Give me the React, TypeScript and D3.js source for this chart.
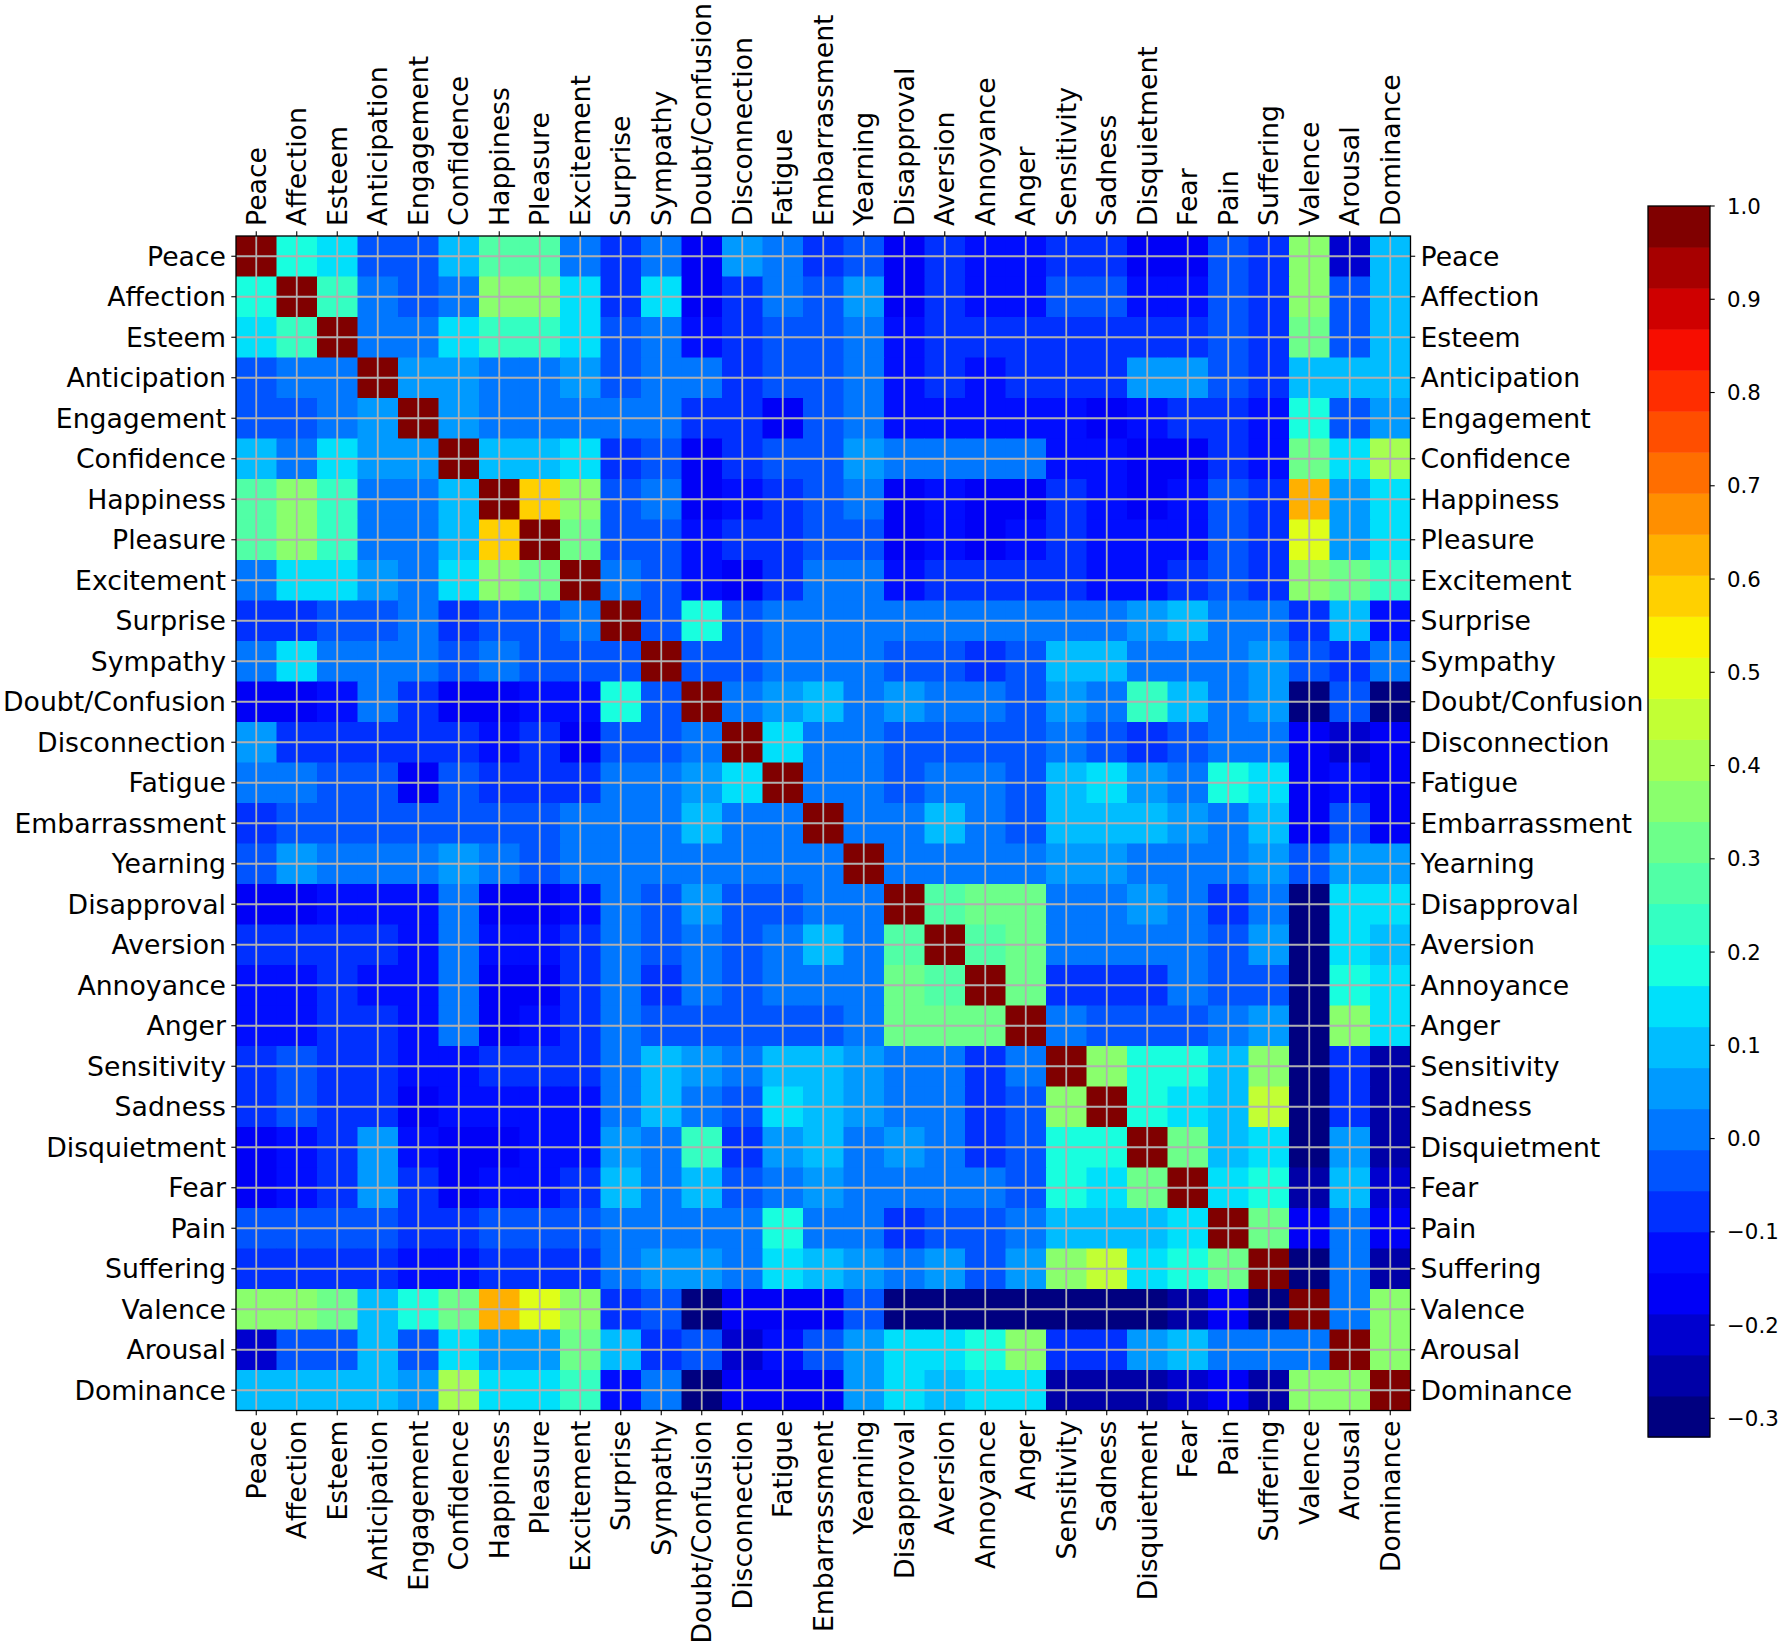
import React from "react";
import * as d3 from "d3";

const labels = [
  "Peace", "Affection", "Esteem", "Anticipation", "Engagement", "Confidence",
  "Happiness", "Pleasure", "Excitement", "Surprise", "Sympathy", "Doubt/Confusion",
  "Disconnection", "Fatigue", "Embarrassment", "Yearning", "Disapproval", "Aversion",
  "Annoyance", "Anger", "Sensitivity", "Sadness", "Disquietment", "Fear", "Pain",
  "Suffering", "Valence", "Arousal", "Dominance",
];

const rowPeace = [1, 0.20, 0.14, -0.03, -0.03, 0.09, 0.27, 0.27, 0.01, -0.08, 0.02, -0.16, 0.04, -0.01, -0.06, -0.03, -0.16, -0.08, -0.13, -0.13, -0.09, -0.08, -0.16, -0.15, -0.04, -0.08, 0.36, -0.22, 0.11];
const rowAffection = [0.20, 1, 0.24, 0.00, -0.05, -0.01, 0.36, 0.36, 0.14, -0.06, 0.16, -0.16, -0.08, -0.01, -0.04, 0.06, -0.16, -0.08, -0.12, -0.12, -0.04, -0.05, -0.13, -0.12, -0.05, -0.06, 0.36, -0.04, 0.11];
const rowEsteem = [0.14, 0.24, 1, 0.01, -0.01, 0.14, 0.24, 0.23, 0.14, -0.04, 0.02, -0.14, -0.07, -0.04, -0.03, 0.02, -0.14, -0.08, -0.09, -0.09, -0.08, -0.08, -0.09, -0.09, -0.05, -0.07, 0.33, -0.02, 0.11];
const rowAnticipation = [-0.03, 0.00, 0.01, 1, 0.05, 0.04, 0.00, 0.00, 0.04, -0.02, -0.01, 0.02, -0.07, -0.04, -0.03, 0.02, -0.13, -0.08, -0.11, -0.09, -0.09, -0.09, 0.04, 0.04, -0.03, -0.07, 0.10, 0.10, 0.08];
const rowEngagement = [-0.03, -0.05, -0.01, 0.05, 1, 0.04, 0.00, 0.00, 0.01, -0.01, 0.02, -0.09, -0.07, -0.15, -0.05, 0.00, -0.14, -0.12, -0.13, -0.12, -0.11, -0.15, -0.13, -0.09, -0.08, -0.12, 0.18, -0.05, 0.06];
const rowConfidence = [0.09, -0.01, 0.14, 0.04, 0.04, 1, 0.10, 0.10, 0.14, -0.09, -0.03, -0.16, -0.07, -0.04, -0.04, 0.06, 0.00, 0.01, 0.00, 0.00, -0.13, -0.14, -0.16, -0.15, -0.08, -0.12, 0.31, 0.14, 0.42];
const rowHappiness = [0.27, 0.36, 0.24, 0.00, 0.00, 0.10, 1, 0.58, 0.38, -0.05, 0.00, -0.16, -0.11, -0.06, -0.05, 0.00, -0.17, -0.14, -0.16, -0.15, -0.09, -0.12, -0.16, -0.12, -0.04, -0.09, 0.63, 0.06, 0.14];
const rowPleasure = [0.27, 0.36, 0.23, 0.00, 0.00, 0.10, 0.58, 1, 0.32, -0.03, -0.03, -0.14, -0.08, -0.06, -0.05, -0.02, -0.17, -0.12, -0.18, -0.13, -0.09, -0.11, -0.14, -0.12, -0.05, -0.09, 0.50, 0.06, 0.14];
const rowExcitement = [0.01, 0.14, 0.14, 0.04, 0.01, 0.14, 0.38, 0.32, 1, -0.01, -0.02, -0.13, -0.15, -0.06, 0.00, 0.02, -0.12, -0.08, -0.09, -0.09, -0.08, -0.11, -0.11, -0.09, -0.04, -0.07, 0.36, 0.30, 0.21];
const rowSurprise = [-0.08, -0.06, -0.04, -0.02, -0.01, -0.09, -0.05, -0.03, -0.01, 1, -0.02, 0.17, -0.05, -0.01, 0.02, 0.02, 0.00, 0.00, 0.00, 0.00, 0.00, 0.00, 0.04, 0.09, 0.00, 0.01, -0.08, 0.10, -0.12];
const rowSympathy = [0.02, 0.16, 0.02, -0.01, 0.02, -0.03, 0.00, -0.03, -0.02, -0.02, 1, -0.03, -0.03, 0.02, 0.00, 0.02, -0.04, -0.03, -0.09, -0.05, 0.10, 0.10, -0.01, 0.01, 0.00, 0.05, -0.02, -0.09, 0.02];
const rowDoubt = [-0.16, -0.16, -0.14, 0.02, -0.09, -0.16, -0.16, -0.14, -0.13, 0.17, -0.03, 1, 0.00, 0.05, 0.10, 0.02, 0.07, 0.02, 0.00, -0.02, 0.04, 0.01, 0.21, 0.09, 0.00, 0.04, -0.29, -0.04, -0.30];
const rowDisconnection = [0.04, -0.08, -0.07, -0.07, -0.07, -0.07, -0.11, -0.08, -0.15, -0.05, -0.03, 0.00, 1, 0.15, 0.01, 0.00, -0.05, -0.04, -0.03, -0.05, -0.01, -0.02, -0.06, -0.04, 0.00, 0.00, -0.17, -0.21, -0.16];
const rowFatigue = [-0.01, -0.01, -0.04, -0.04, -0.15, -0.04, -0.06, -0.06, -0.06, -0.01, 0.02, 0.05, 0.15, 1, 0.02, 0.00, -0.05, 0.00, 0.00, -0.04, 0.11, 0.16, 0.04, 0.01, 0.19, 0.16, -0.17, -0.12, -0.16];
const rowEmbarrassment = [-0.06, -0.04, -0.03, -0.03, -0.05, -0.04, -0.05, -0.05, 0.00, 0.02, 0.00, 0.10, 0.01, 0.02, 1, 0.02, 0.00, 0.09, 0.00, -0.02, 0.10, 0.10, 0.08, 0.05, 0.02, 0.10, -0.17, -0.04, -0.16];
const rowYearning = [-0.03, 0.06, 0.02, 0.02, 0.00, 0.06, 0.00, -0.02, 0.02, 0.02, 0.02, 0.02, 0.00, 0.00, 0.02, 1, 0.01, 0.02, 0.01, 0.01, 0.04, 0.04, 0.02, 0.01, 0.00, 0.04, -0.05, 0.05, 0.04];
const rowDisapproval = [-0.16, -0.16, -0.14, -0.13, -0.14, 0.00, -0.17, -0.17, -0.12, 0.00, -0.04, 0.07, -0.05, -0.05, 0.00, 0.01, 1, 0.28, 0.33, 0.33, 0.00, 0.00, 0.05, 0.02, -0.06, 0.02, -0.31, 0.16, 0.13];
const rowAversion = [-0.08, -0.08, -0.08, -0.08, -0.12, 0.01, -0.14, -0.12, -0.08, 0.00, -0.03, 0.02, -0.04, 0.00, 0.09, 0.02, 0.28, 1, 0.27, 0.33, 0.01, 0.02, 0.00, 0.01, -0.05, 0.04, -0.30, 0.15, 0.08];
const rowAnnoyance = [-0.13, -0.12, -0.09, -0.11, -0.13, 0.00, -0.16, -0.18, -0.09, 0.00, -0.09, 0.00, -0.03, 0.00, 0.00, 0.01, 0.33, 0.27, 1, 0.33, -0.06, -0.06, -0.06, 0.00, -0.03, -0.04, -0.28, 0.20, 0.13];
const rowAnger = [-0.13, -0.12, -0.09, -0.09, -0.12, 0.00, -0.15, -0.13, -0.09, 0.00, -0.05, -0.02, -0.05, -0.04, -0.02, 0.01, 0.33, 0.33, 0.33, 1, -0.01, -0.04, -0.02, -0.02, -0.01, 0.05, -0.30, 0.37, 0.15];
const rowSensitivity = [-0.09, -0.04, -0.08, -0.09, -0.11, -0.13, -0.09, -0.09, -0.08, 0.00, 0.10, 0.04, -0.01, 0.11, 0.10, 0.04, 0.00, 0.01, -0.06, -0.01, 1, 0.35, 0.20, 0.17, 0.11, 0.35, -0.30, -0.07, -0.25];
const rowSadness = [-0.08, -0.05, -0.08, -0.09, -0.15, -0.14, -0.12, -0.11, -0.11, 0.00, 0.10, 0.01, -0.02, 0.16, 0.10, 0.04, 0.00, 0.02, -0.06, -0.04, 0.35, 1, 0.20, 0.15, 0.10, 0.44, -0.30, -0.09, -0.27];
const rowDisquietment = [-0.16, -0.13, -0.09, 0.04, -0.13, -0.16, -0.16, -0.14, -0.11, 0.04, -0.01, 0.21, -0.06, 0.04, 0.08, 0.02, 0.05, 0.00, -0.06, -0.02, 0.20, 0.20, 1, 0.33, 0.10, 0.16, -0.29, 0.07, -0.25];
const rowFear = [-0.15, -0.12, -0.09, 0.04, -0.09, -0.15, -0.12, -0.12, -0.09, 0.09, 0.01, 0.09, -0.04, 0.01, 0.05, 0.01, 0.02, 0.01, 0.00, -0.02, 0.17, 0.15, 0.33, 1, 0.14, 0.19, -0.24, 0.08, -0.23];
const rowPain = [-0.04, -0.05, -0.05, -0.03, -0.08, -0.08, -0.04, -0.05, -0.04, 0.00, 0.00, 0.00, 0.00, 0.19, 0.02, 0.00, -0.06, -0.05, -0.03, -0.01, 0.11, 0.10, 0.10, 0.14, 1, 0.33, -0.16, 0.00, -0.15];
const rowSuffering = [-0.08, -0.06, -0.07, -0.07, -0.12, -0.12, -0.09, -0.09, -0.07, 0.01, 0.05, 0.04, 0.00, 0.16, 0.10, 0.04, 0.02, 0.04, -0.04, 0.05, 0.35, 0.44, 0.16, 0.19, 0.33, 1, -0.28, 0.00, -0.27];
const rowValence = [0.36, 0.36, 0.33, 0.10, 0.18, 0.31, 0.63, 0.50, 0.36, -0.08, -0.02, -0.29, -0.17, -0.17, -0.17, -0.05, -0.31, -0.30, -0.28, -0.30, -0.30, -0.30, -0.29, -0.24, -0.16, -0.28, 1, 0.00, 0.36];
const rowArousal = [-0.22, -0.04, -0.02, 0.10, -0.05, 0.14, 0.06, 0.06, 0.30, 0.10, -0.09, -0.04, -0.21, -0.12, -0.04, 0.05, 0.16, 0.15, 0.20, 0.37, -0.07, -0.09, 0.07, 0.08, 0.00, 0.00, 0.00, 1, 0.36];
const rowDominance = [0.11, 0.11, 0.11, 0.08, 0.06, 0.42, 0.14, 0.14, 0.21, -0.12, 0.02, -0.30, -0.16, -0.16, -0.16, 0.04, 0.13, 0.08, 0.13, 0.15, -0.25, -0.27, -0.25, -0.23, -0.15, -0.27, 0.36, 0.36, 1];

const matrix = [
  rowPeace, rowAffection, rowEsteem, rowAnticipation, rowEngagement, rowConfidence,
  rowHappiness, rowPleasure, rowExcitement, rowSurprise, rowSympathy, rowDoubt,
  rowDisconnection, rowFatigue, rowEmbarrassment, rowYearning, rowDisapproval, rowAversion,
  rowAnnoyance, rowAnger, rowSensitivity, rowSadness, rowDisquietment, rowFear, rowPain,
  rowSuffering, rowValence, rowArousal, rowDominance,
];

const colorbarTicks = [-0.3, -0.2, -0.1, 0.0, 0.1, 0.2, 0.3, 0.4, 0.5, 0.6, 0.7, 0.8, 0.9, 1.0];
const VMIN = -0.32;
const VMAX = 1.0;
const NLEVELS = 30;

function seg(pts: number[][], x: number) {
  for (let i = 1; i < pts.length; i++) {
    if (x <= pts[i][0]) {
      const [x0, y0] = pts[i - 1];
      const [x1, y1] = pts[i];
      return y0 + ((x - x0) / (x1 - x0)) * (y1 - y0);
    }
  }
  return pts[pts.length - 1][1];
}
function jet(x: number) {
  const r = seg([[0, 0], [0.35, 0], [0.66, 1], [0.89, 1], [1, 0.5]], x);
  const g = seg([[0, 0], [0.125, 0], [0.375, 1], [0.64, 1], [0.91, 0], [1, 0]], x);
  const b = seg([[0, 0.5], [0.11, 1], [0.34, 1], [0.65, 0], [1, 0]], x);
  return d3.rgb(r * 255, g * 255, b * 255).formatHex();
}

const levelColors = d3.range(NLEVELS).map((k) => jet(k / (NLEVELS - 1)));

export default function App() {
  const W = 1785, H = 1646;
  const x0 = 236, x1 = 1410.5, y0 = 236, y1 = 1410.5;
  const xs = d3.scaleBand<string>().domain(labels).range([x0, x1]);
  const ys = d3.scaleBand<string>().domain(labels).range([y0, y1]);
  const bw = xs.bandwidth();
  const color = d3.scaleQuantize<string>().domain([VMIN, VMAX]).range(levelColors);

  const cbX = 1648, cbW = 62, cbTop = 206, cbBot = 1437;
  const cy = d3.scaleLinear().domain([VMIN, VMAX]).range([cbBot, cbTop]);
  const step = (VMAX - VMIN) / NLEVELS;
  const fmt = d3.format(".1f");

  const font = "DejaVu Sans";
  const fs = 26.7;
  const tickLen = 4.7;

  return (
    <svg width={W} height={H} style={{ position: "absolute", left: 0, top: 0, background: "#fff" }}
      fontFamily={font}>
      <rect x={0} y={0} width={W} height={H} fill="#fff" />
      {matrix.map((row, i) =>
        row.map((v, j) => (
          <rect key={`c${i}-${j}`} x={xs(labels[j])!} y={ys(labels[i])!}
            width={bw + 0.5} height={bw + 0.5} fill={color(v)} />
        ))
      )}
      {labels.map((l) => (
        <g key={`g-${l}`}>
          <line x1={xs(l)! + bw / 2} x2={xs(l)! + bw / 2} y1={y0} y2={y1} stroke="#b0b0b0" strokeWidth={1.8} />
          <line y1={ys(l)! + bw / 2} y2={ys(l)! + bw / 2} x1={x0} x2={x1} stroke="#b0b0b0" strokeWidth={1.8} />
        </g>
      ))}
      <rect x={x0} y={y0} width={x1 - x0} height={y1 - y0} fill="none" stroke="#000" strokeWidth={1.3} />
      {labels.map((l) => {
        const cx = xs(l)! + bw / 2;
        const cyy = ys(l)! + bw / 2;
        return (
          <g key={`t-${l}`}>
            <line x1={x0 - tickLen} x2={x0} y1={cyy} y2={cyy} stroke="#000" strokeWidth={1.1} />
            <line x1={x1} x2={x1 + tickLen} y1={cyy} y2={cyy} stroke="#000" strokeWidth={1.1} />
            <line x1={cx} x2={cx} y1={y0 - tickLen} y2={y0} stroke="#000" strokeWidth={1.1} />
            <line x1={cx} x2={cx} y1={y1} y2={y1 + tickLen} stroke="#000" strokeWidth={1.1} />
            <text x={x0 - 10} y={cyy} fontSize={fs} textAnchor="end" dominantBaseline="central">{l}</text>
            <text x={x1 + 10} y={cyy} fontSize={fs} textAnchor="start" dominantBaseline="central">{l}</text>
            <text transform={`translate(${cx},${y0 - 10}) rotate(-90)`} fontSize={fs}
              textAnchor="start" dominantBaseline="central">{l}</text>
            <text transform={`translate(${cx},${y1 + 10}) rotate(-90)`} fontSize={fs}
              textAnchor="end" dominantBaseline="central">{l}</text>
          </g>
        );
      })}
      {levelColors.map((c, k) => (
        <rect key={`cb${k}`} x={cbX} width={cbW}
          y={cy(VMIN + (k + 1) * step)} height={cy(VMIN + k * step) - cy(VMIN + (k + 1) * step) + 0.5}
          fill={c} />
      ))}
      <rect x={cbX} y={cbTop} width={cbW} height={cbBot - cbTop} fill="none" stroke="#000" strokeWidth={1.3} />
      {colorbarTicks.map((t) => (
        <g key={`cbt${t}`}>
          <line x1={cbX + cbW} x2={cbX + cbW + tickLen} y1={cy(t)} y2={cy(t)} stroke="#000" strokeWidth={1.1} />
          <text x={cbX + cbW + 17} y={cy(t)} fontSize={21.3} dominantBaseline="central">{fmt(t)}</text>
        </g>
      ))}
    </svg>
  );
}
